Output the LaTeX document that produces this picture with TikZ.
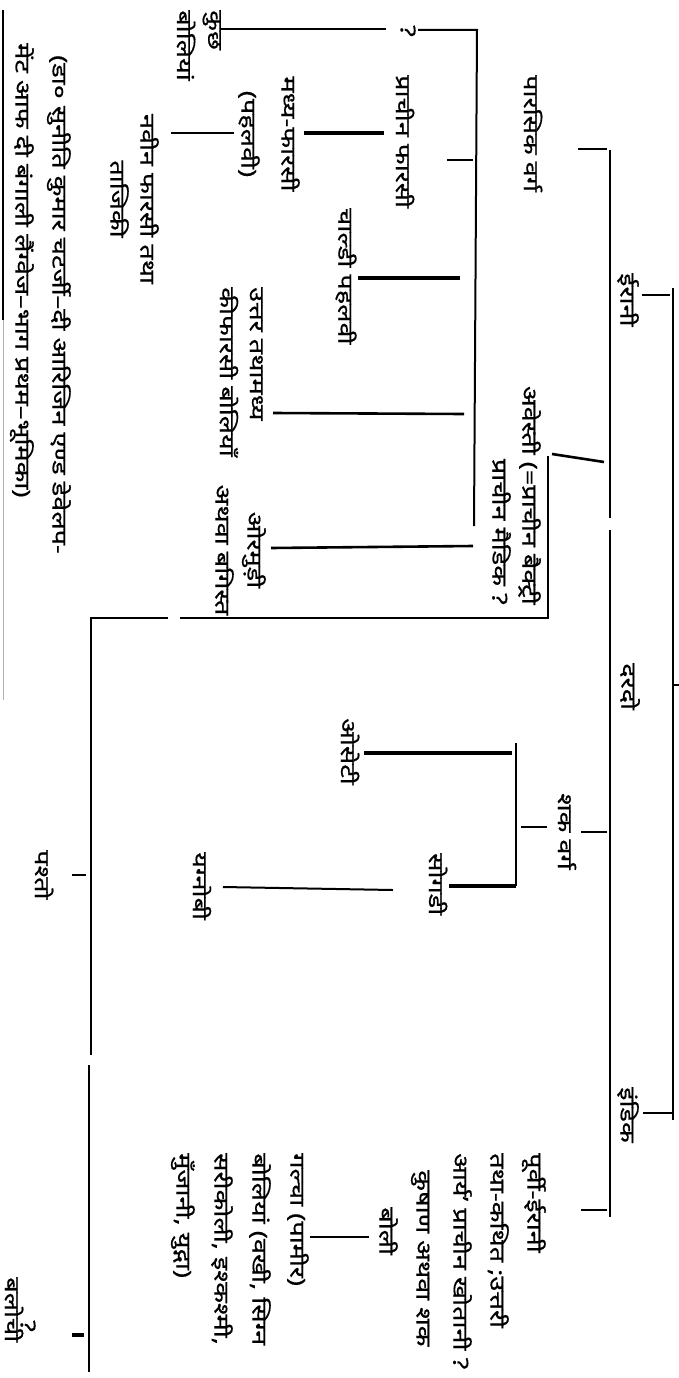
\documentclass[tikz,border=0pt]{standalone}
\usepackage{fontspec}
\setmainfont{Noto Sans}[Script=Devanagari, FakeStretch=1.32, FakeBold=0.6]
\usetikzlibrary{positioning}

\begin{document}
\begin{tikzpicture}[x=1pt, y=-1pt,
  lab/.style={rotate=-90, inner sep=0pt, font=\fontsize{20.5}{37}\selectfont},
  bar/.style={line width=2.6pt},
  hvy/.style={line width=3.6pt},
  tk/.style={line width=1.2pt}
]
  \useasboundingbox[fill=white] (0,0) rectangle (678,1378);

  % labels, top level and Iranian branch
  \node[lab, anchor=west] (iran) at (628,273) {ईरानी};
  \node[lab, anchor=west] (darad) at (630,663) {दरदो};
  \node[lab, anchor=west] (indic) at (628,1087) {इंडिक};
  \node[lab, anchor=west] (pars) at (533,75) {पारसिक वर्ग};
  \node[lab, anchor=north east, align=right, font=\fontsize{20.5}{30}\selectfont] (avest) at (541,605) {अवेस्ती (=प्राचीन बैक्ट्री\\प्राचीन मैडिक ?};
  \node[lab, anchor=west] (shak) at (567,793) {शक वर्ग};
  \node[lab, anchor=north west, align=left] (purvi) at (546,1153)
    {पूर्वी-ईरानी\\तथा-कथित ;उत्तरी\\आर्य’ प्राचीन खोतानी ?\\\hspace*{17pt}कुषाण अथवा शक\\\hspace*{54pt}बोली};

  % Persian group
  \node[lab] (qm) at (408,31) {?};
  \node[lab, anchor=north west, align=left, font=\fontsize{20.5}{31}\selectfont] (kuch) at (221,10) {कुछ\\बोलियां};
  \node[lab, anchor=west] (prach) at (405,75) {प्राचीन फारसी};
  \node[lab, anchor=north, align=center, font=\fontsize{20.5}{40}\selectfont] (madhya) at (300,134) {मध्य-फारसी\\(पहलवी)};
  \node[lab, anchor=north, align=center, font=\fontsize{20.5}{30}\selectfont] (naveen) at (159,199) {नवीन फारसी तथा\\ताजिकी};
  \node[lab, anchor=west] (chald) at (346,208) {चाल्डी पहलवी};
  \node[lab, anchor=north west, align=left, font=\fontsize{20.5}{30}\selectfont] (uttar) at (263,287) {उत्तर तथामध्य\\कीफारसी बोलियाँ};
  \node[lab, anchor=north, align=center, font=\fontsize{20.5}{32}\selectfont] (ormur) at (266,550) {ओरमुड़ी\\अथवा बगिस्त};

  % Saka group and the rest
  \node[lab, anchor=west] (osset) at (350,718) {ओसेटी};
  \node[lab, anchor=west] (sogd) at (438,853) {सोगडी};
  \node[lab, anchor=west] (yagn) at (202,852) {यग्नोबी};
  \node[lab, anchor=north west, align=left, font=\fontsize{20.5}{38}\selectfont] (galcha) at (309,1153)
    {गल्चा (पामीर)\\बोलियां (वखी, सिग्न\\सरीकोली, इश्कश्मी,\\मुँजानी, युद्गा)};
  \node[lab, anchor=west] (pasht) at (44,850) {पश्तो};
  \node[lab] (balq) at (28,1326) {?};
  \node[lab, anchor=west] (baloch) at (14,1277) {बलोची};
  \node[lab, anchor=north west, align=left] (cite) at (71,43)
    {\hspace*{12pt}(डा० सुनीति कुमार चटर्जी–दी आरिजिन एण्ड डेवेलप-\\मेंट आफ दी बंगाली लैंग्वेज–भाग प्रथम–भूमिका)};

  % bar ends
  \coordinate (ra) at (673,288);  \coordinate (rb) at (673,1120);
  \coordinate (rt1) at (673,685); \coordinate (rt2) at (679,685);
  \coordinate (it1) at (670,295); \coordinate (it2) at (642,295);
  \coordinate (dt1) at (672,1113); \coordinate (dt2) at (643,1113);
  \coordinate (ia) at (610,150);  \coordinate (ib) at (610,518);
  \coordinate (ic) at (610,530);  \coordinate (id) at (610,1217);
  \coordinate (pt1) at (607,149); \coordinate (pt2) at (578,149);
  \coordinate (at1) at (604,462); \coordinate (at2) at (552,454);
  \coordinate (av1) at (548,456); \coordinate (av2) at (548,618);
  \coordinate (h1) at (180,618);  \coordinate (h2) at (168,618);
  \coordinate (pa) at (91,618);   \coordinate (pb) at (91,1055);
  \coordinate (pc) at (89,1065);  \coordinate (pd) at (89,1372);
  \coordinate (ps1) at (86,875);  \coordinate (ps2) at (72,875);
  \coordinate (bl1) at (84,1335); \coordinate (bl2) at (72,1335);
  \coordinate (st1) at (607,832); \coordinate (st2) at (581,832);
  \coordinate (sk1) at (547,827); \coordinate (sk2) at (521,827);
  \coordinate (sa) at (516,743);  \coordinate (sb) at (516,886);
  \coordinate (so2) at (449,886);
  \coordinate (os1) at (512,753); \coordinate (os2) at (364,753);
  \coordinate (yg1) at (393,890); \coordinate (yg2) at (223,887);
  \coordinate (eb1) at (607,1210); \coordinate (eb2) at (581,1210);
  \coordinate (gb1) at (369,1237); \coordinate (gb2) at (310,1237);
  \coordinate (fa) at (477,30);   \coordinate (fb) at (474,526);
  \coordinate (q1) at (418,30);   \coordinate (q2) at (386,29);
  \coordinate (q3) at (221,29);
  \coordinate (fp1) at (473,160); \coordinate (fp2) at (447,160);
  \coordinate (pm1) at (384,133); \coordinate (pm2) at (304,133);
  \coordinate (mn1) at (234,133); \coordinate (mn2) at (171,133);
  \coordinate (ch1) at (460,278); \coordinate (ch2) at (358,278);
  \coordinate (ut1) at (464,414); \coordinate (ut2) at (273,413);
  \coordinate (or1) at (473,546); \coordinate (or2) at (271,548);
  \coordinate (lb1) at (3,10);    \coordinate (lb2) at (3,320);
  \coordinate (lb3) at (3,700);

  % connectors
  \draw[bar] (ra) -- (rb);
  \draw[bar] (rt1) -- (rt2);
  \draw[tk] (it1) -- (it2);
  \draw[tk] (dt1) -- (dt2);
  \draw[bar] (ia) -- (ib);
  \draw[bar] (ic) -- (id);
  \draw[tk] (pt1) -- (pt2);
  \draw[bar] (at1) -- (at2);
  \draw[bar] (av1) -- (av2) -- (h1);
  \draw[bar] (h2) -- (pa) -- (pb);
  \draw[bar] (pc) -- (pd);
  \draw[bar] (ps1) -- (ps2);
  \draw[hvy] (bl1) -- (bl2);
  \draw[tk] (st1) -- (st2);
  \draw[tk] (sk1) -- (sk2);
  \draw[bar] (sa) -- (sb);
  \draw[hvy] (sb) -- (so2);
  \draw[hvy] (os1) -- (os2);
  \draw[line width=2pt] (yg1) -- (yg2);
  \draw[tk] (eb1) -- (eb2);
  \draw[line width=2pt] (gb1) -- (gb2);
  \draw[line width=2pt] (fb) -- (fa) -- (q1);
  \draw[bar] (q2) -- (q3);
  \draw[tk] (fp1) -- (fp2);
  \draw[hvy] (pm1) -- (pm2);
  \draw[tk] (mn1) -- (mn2);
  \draw[hvy] (ch1) -- (ch2);
  \draw[bar] (ut1) -- (ut2);
  \draw[bar] (or1) -- (or2);
  \draw[line width=1.4pt] (lb1) -- (lb2);
  \draw[line width=0.8pt, gray!60] (lb2) -- (lb3);
\end{tikzpicture}
\end{document}
